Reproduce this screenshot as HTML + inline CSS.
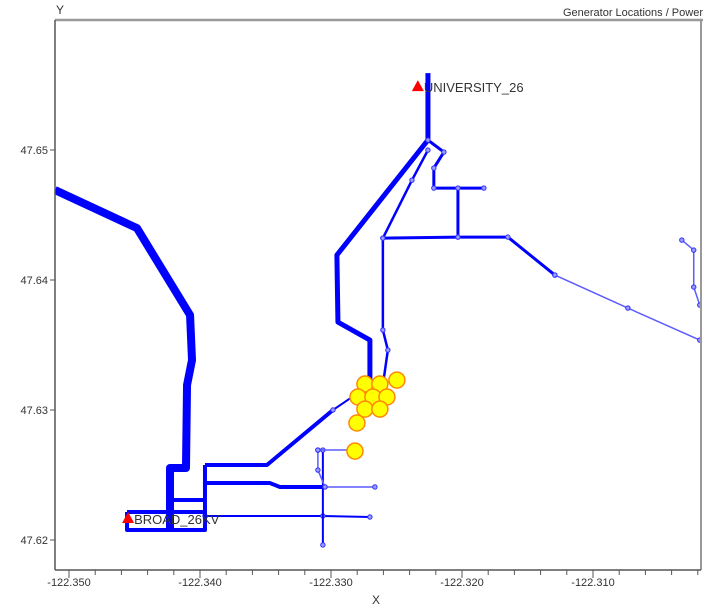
<!DOCTYPE html>
<html><head><meta charset="utf-8"><style>
body{margin:0;background:#fff;width:713px;height:610px;overflow:hidden}
text{font-family:"Liberation Sans",sans-serif}
</style></head><body>
<svg id="c" width="713" height="610"></svg>
<script>
const xTicks=[-122.35,-122.34,-122.33,-122.32,-122.31];
const xTickLabels=["-122.350","-122.340","-122.330","-122.320","-122.310"];
const yTicks=[47.62,47.63,47.64,47.65];
const yTickLabels=["47.62","47.63","47.64","47.65"];
// network branches (lon / lat)
const branchLon=[
[-122.35107,-122.34481,-122.34076,-122.34061,-122.34099,-122.34107,-122.34229,-122.34229],
[-122.34557,-122.33962,-122.33962,-122.34557,-122.34557],
[-122.34229,-122.33962],
[-122.33962,-122.33489,-122.32985],
[-122.32985,-122.32817,-122.32703],
[-122.33962,-122.33466,-122.33390,-122.33046],
[-122.33046,-122.32665],
[-122.33962,-122.33062,-122.32703],
[-122.33062,-122.33062],
[-122.33100,-122.33100,-122.33046],
[-122.33100,-122.32817],
[-122.32703,-122.32703,-122.32947,-122.32955,-122.32321,-122.32260,-122.32260],
[-122.32604,-122.32566,-122.32604,-122.32604,-122.32382,-122.32260],
[-122.32260,-122.32138,-122.32215,-122.32215,-122.31833],
[-122.32031,-122.32031],
[-122.32604,-122.32031,-122.31650,-122.31291],
[-122.31291,-122.30734,-122.30185],
[-122.30322,-122.30231,-122.30231,-122.30185],
[-122.33962,-122.33962]
];
const branchLat=[
[47.64692,47.64399,47.63730,47.63384,47.63192,47.62554,47.62554,47.62077],
[47.62215,47.62215,47.62077,47.62077,47.62215],
[47.62308,47.62308],
[47.62577,47.62577,47.63000],
[47.63000,47.63115,47.63154],
[47.62438,47.62438,47.62408,47.62408],
[47.62408,47.62408],
[47.62185,47.62185,47.62177],
[47.62692,47.61962],
[47.62692,47.62538,47.62408],
[47.62692,47.62692],
[47.63230,47.63538,47.63676,47.64192,47.64999,47.65076,47.65591],
[47.63192,47.63461,47.63615,47.64322,47.64768,47.64999],
[47.65076,47.64984,47.64861,47.64707,47.64707],
[47.64707,47.64330],
[47.64322,47.64330,47.64330,47.64038],
[47.64038,47.63784,47.63538],
[47.64307,47.64230,47.63946,47.63807],
[47.62577,47.62077]
];
const branchLoad=[8,4,4,4,2,4,1.5,2,2,1.5,1.5,5,2.5,3,3,3,1.5,1.5,4];
const genLon=[-122.32337,-122.34549];
const genLat=[47.65491,47.62169];
const genNames=["UNIVERSITY_26","BROAD_26KV"];
const pvLon=[-122.32741,-122.32627,-122.32497,-122.32794,-122.32680,-122.32573,-122.32741,-122.32627,-122.32802,-122.32817];
const pvLat=[47.63200,47.63200,47.63230,47.63100,47.63100,47.63100,47.63007,47.63007,47.62900,47.62684];

const svg=document.getElementById('c');const NS='http://www.w3.org/2000/svg';
const X=v=>200+(v+122.34)*13100, Y=v=>540-(v-47.62)*13000;
function mk(t,a,p){const e=document.createElementNS(NS,t);for(const k in a)e.setAttribute(k,a[k]);(p||svg).appendChild(e);return e;}
const L=55,R=701,T=20,B=570;
let e;
e=mk('rect',{x:0,y:0,width:713,height:610,fill:'#fff'});


const clip=mk('clipPath',{id:'cp'});mk('rect',{x:L,y:T,width:R-L,height:B-T},clip);
const g=mk('g',{'clip-path':'url(#cp)'});


branchLon.forEach((lons,i)=>{
  const w=branchLoad[i];
  const pts=lons.map((v,j)=>X(v)+','+Y(branchLat[i][j])).join(' ');
  e=mk('polyline',{points:pts,fill:'none',stroke:w<2?'#5c5cff':'#0000ff','stroke-width':w,'stroke-linejoin':'round'},g);
  
  
  if(w<=3){lons.forEach((v,j)=>{
    e=mk('circle',{cx:X(v),cy:Y(branchLat[i][j]),r:2.2,fill:'#9a9aff',stroke:'#3030ff','stroke-width':1},g);
    
    
  });}
});
pvLon.forEach((v,i)=>{
  e=mk('circle',{cx:X(v),cy:Y(pvLat[i]),r:8,fill:'#ffff00',stroke:'#ff8800','stroke-width':1.5},g);
  
  
});
genLon.forEach((v,i)=>{
  const x=X(v),y=Y(genLat[i]);
  e=mk('polygon',{points:`${x-6},${y+5} ${x+6},${y+5} ${x},${y-6}`,fill:'#ff0000'});
  
  
  e=mk('text',{x:x+6,y:y+6,'font-size':13,fill:'#333'});e.textContent=genNames[i];
  
  
});
// frame
e=mk('line',{x1:L,y1:T,x2:R+2,y2:T,stroke:'#999','stroke-width':2.5});

e=mk('line',{x1:R,y1:T,x2:R,y2:B,stroke:'#999','stroke-width':2});

e=mk('line',{x1:L,y1:T,x2:L,y2:B,stroke:'#555','stroke-width':1.5});

e=mk('line',{x1:L,y1:B,x2:R,y2:B,stroke:'#555','stroke-width':1.5});

for(let k=0;k<=26;k++){const v=-122.352+k*0.002;const x=X(v);if(x<L||x>R)continue;
  e=mk('line',{x1:x,y1:B,x2:x,y2:B+5,stroke:'#555'});
  }
xTicks.forEach((v,i)=>{const x=X(v);
  e=mk('line',{x1:x,y1:B,x2:x,y2:B+8,stroke:'#555'});
  
  e=mk('text',{x:x,y:B+16,'font-size':11,'text-anchor':'middle',fill:'#333'});e.textContent=xTickLabels[i];
  });
yTicks.forEach((v,i)=>{const y=Y(v);
  e=mk('line',{x1:L-5,y1:y,x2:L,y2:y,stroke:'#555'});
  
  e=mk('text',{x:L-7,y:y+4,'font-size':11,'text-anchor':'end',fill:'#333'});e.textContent=yTickLabels[i];
  });
e=mk('text',{x:376,y:604,'font-size':12,'text-anchor':'middle',fill:'#333'});e.textContent='X';

e=mk('text',{x:56,y:14,'font-size':12,fill:'#333'});e.textContent='Y';

e=mk('text',{x:703,y:16,'font-size':11,'text-anchor':'end',fill:'#333'});e.textContent='Generator Locations / Power';

</script>
</body></html>
